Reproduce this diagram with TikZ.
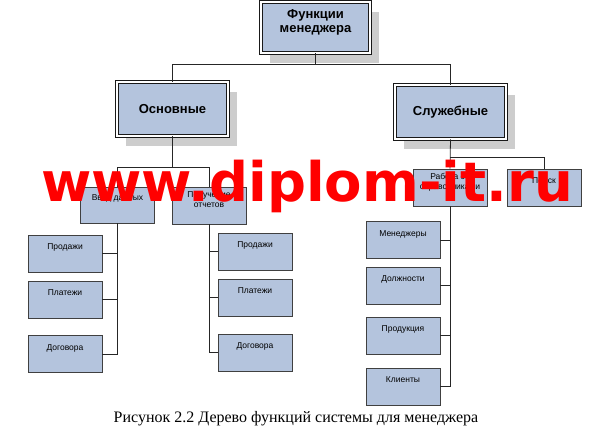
\documentclass[tikz,border=0pt]{standalone}
\usepackage{fontspec}
\setmainfont{Liberation Sans}
\newfontfamily\capfont{Liberation Serif}
\newfontfamily\wmfont{DejaVu Sans}
\usepackage{tikz}
\usetikzlibrary{shadows}
\definecolor{boxfill}{RGB}{180,196,221}
\definecolor{shade}{RGB}{205,205,205}
\definecolor{wmred}{RGB}{255,0,0}

\begin{document}
\begin{tikzpicture}[
        x=1pt, y=-1pt,
        bigbox/.style ={draw=black!90, double=white, double distance=1.3pt,
                        line width=0.9pt, fill=boxfill, inner sep=0pt,
                        minimum width=111pt, minimum height=54pt, align=center,
                        font=\bfseries\fontsize{13}{14.5}\selectfont,
                        drop shadow={shadow xshift=9pt, shadow yshift=-10pt,
                                     fill=shade, opacity=1}},
        leaf/.style   ={draw=black!75, line width=0.8pt, fill=boxfill,
                        inner sep=0pt, minimum width=74pt, minimum height=37pt,
                        font=\fontsize{8.5}{10}\selectfont,
                        text height=15pt, text depth=22pt},
        leaf2/.style  ={leaf, align=center, text height=21pt, text depth=16pt},
        conn/.style   ={draw=black!85, line width=0.8pt},
        wmark/.style  ={font=\wmfont\bfseries\fontsize{54.5}{54.5}\selectfont,
                        text=wmred, inner sep=0pt},
        caption/.style={font=\capfont\fontsize{16}{18}\selectfont, inner sep=0pt}
    ]
    \useasboundingbox (0,0) rectangle (614,438);

    % upper levels
    \node[bigbox, minimum width=109pt, minimum height=51pt,
          text height=31pt, text depth=20pt] (fm) at (315.5,27.5)
          {Функции\\менеджера};
    \node[bigbox] (osn) at (172.5,109) {Основные};
    \node[bigbox] (slu) at (450.5,112) {Служебные};

    \coordinate (topbus) at (0,64);
    \coordinate (osnbus) at (0,167);
    \coordinate (slubus) at (0,157);

    \draw[conn] (fm.south) -- (fm.south |- topbus);
    \draw[conn] (osn.north) |- (slu.north |- topbus) -- (slu.north);

    \node[leaf, minimum height=36pt, text height=14pt, text depth=22pt] (vvod)
          at (117.5,205) {Ввод данных};
    \node[leaf2] (poluch) at (209,205.5) {Получение\\отчетов};
    \node[leaf2] (rab) at (450,187.5) {Работа со\\справочниками};
    \node[leaf] (poisk) at (544,187.5) {Поиск};

    \draw[conn] (osn.south) -- (osn.south |- osnbus);
    \draw[conn] (vvod.north) |- (poluch.north |- osnbus) -- (poluch.north);
    \draw[conn] (slu.south) -- (rab.north);
    \draw[conn] (rab.north |- slubus) -| (poisk.north);

    % leaves
    \foreach \t/\y [count=\i] in {Продажи/253.5, Платежи/299.5, Договора/354} {
        \node[leaf] (a\i) at (65,\y) {\t};
        \draw[conn] (vvod.south) |- (a\i.east);
    }
    \foreach \t/\y [count=\i] in {Продажи/251.5, Платежи/297.5, Договора/352.5} {
        \node[leaf] (b\i) at (255,\y) {\t};
        \draw[conn] (poluch.south) |- (b\i.west);
    }
    \foreach \t/\y [count=\i] in {Менеджеры/240, Должности/285.5, Продукция/335.5, Клиенты/386.5} {
        \node[leaf] (c\i) at (403,\y) {\t};
        \draw[conn] (rab.south) |- (c\i.east);
    }

    \node[caption, anchor=base] (cap) at (296,423)
          {Рисунок 2.2 Дерево функций системы для менеджера};
    \node[wmark, anchor=base west] (wm) at (41,202) {www.diplom-it.ru};
\end{tikzpicture}
\end{document}
